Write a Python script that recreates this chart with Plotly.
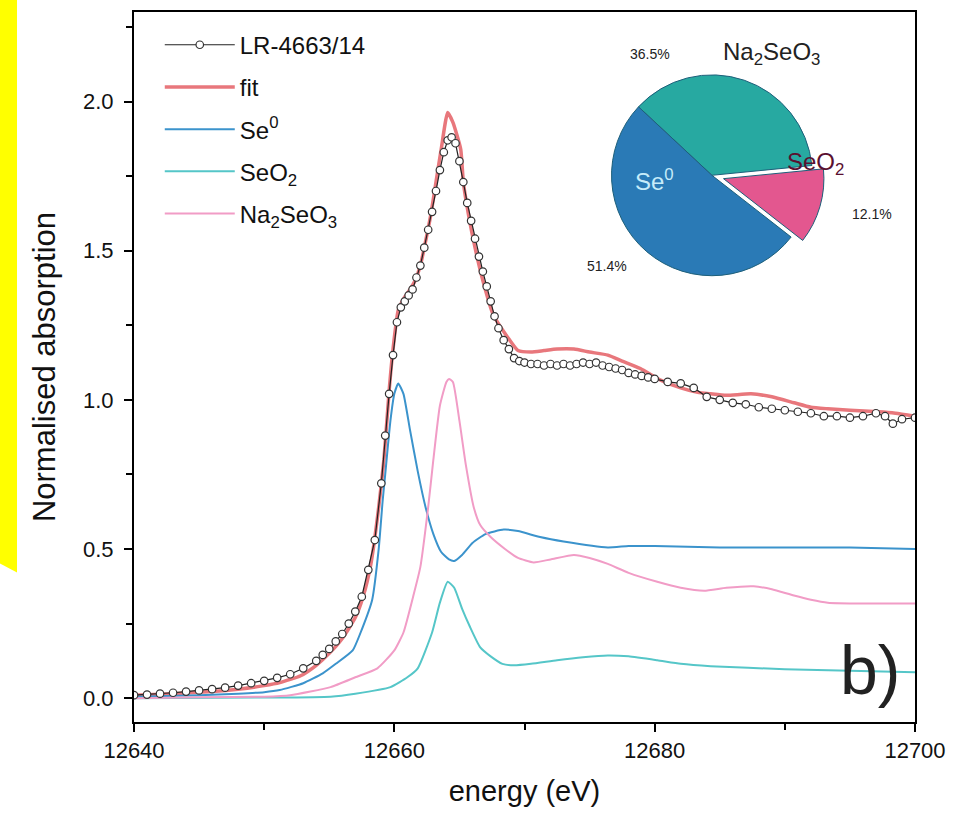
import plotly.graph_objects as go

# ---------------- data ----------------
data_E = [12640, 12641, 12642, 12643, 12644, 12645, 12646, 12647, 12648, 12649, 12650, 12651,
          12652, 12653, 12654, 12654.5, 12655, 12655.5, 12656, 12656.5, 12657, 12657.5, 12658,
          12658.5, 12659, 12659.3, 12659.6, 12659.9, 12660.2, 12660.5, 12660.8, 12661.1, 12661.4,
          12661.7, 12662.0, 12662.3, 12662.6, 12662.9, 12663.2, 12663.5, 12663.8, 12664.1, 12664.4,
          12664.7, 12665.0, 12665.3, 12665.6, 12665.9, 12666.2, 12666.5, 12666.8, 12667.1, 12667.4,
          12667.7, 12668.0, 12668.4, 12668.8, 12669.2, 12669.6, 12670, 12670.5, 12671, 12671.5,
          12672, 12672.5, 12673, 12673.5, 12674, 12674.5, 12675, 12675.5, 12676, 12676.5, 12677,
          12677.5, 12678, 12678.5, 12679, 12679.5, 12680, 12681, 12682, 12683, 12684, 12685, 12686,
          12687, 12688, 12689, 12690, 12691, 12692, 12693, 12694, 12695, 12696, 12697, 12697.7,
          12698.3, 12699, 12700]
data_A = [0.010, 0.012, 0.015, 0.018, 0.022, 0.026, 0.030, 0.035, 0.042, 0.050, 0.058, 0.068,
          0.080, 0.100, 0.125, 0.145, 0.165, 0.190, 0.215, 0.250, 0.290, 0.340, 0.430,
          0.530, 0.720, 0.880, 1.020, 1.150, 1.260, 1.310, 1.330, 1.350, 1.370,
          1.410, 1.450, 1.510, 1.570, 1.630, 1.700, 1.770, 1.830, 1.870, 1.880,
          1.860, 1.800, 1.730, 1.660, 1.600, 1.540, 1.480, 1.430, 1.380, 1.330,
          1.280, 1.240, 1.200, 1.170, 1.140, 1.130, 1.125, 1.120, 1.120, 1.115,
          1.120, 1.115, 1.120, 1.115, 1.120, 1.125, 1.120, 1.125, 1.115, 1.110, 1.105,
          1.100, 1.090, 1.085, 1.080, 1.075, 1.070, 1.060, 1.055, 1.040, 1.010, 1.000, 0.990,
          0.985, 0.975, 0.970, 0.965, 0.960, 0.955, 0.945, 0.945, 0.940, 0.945, 0.955, 0.945,
          0.920, 0.935, 0.940]

fit_E = [12640, 12642, 12644, 12646, 12648, 12650, 12651.2, 12652.8, 12654, 12655, 12656, 12657,
         12657.6, 12658.2, 12658.8, 12659.2, 12659.6, 12659.9, 12660.3, 12660.8, 12661.2, 12661.6,
         12662.0, 12662.3, 12662.8, 12663.2, 12663.6, 12664.1, 12664.5, 12665.1, 12665.3, 12665.7,
         12666.2, 12666.8, 12667.6, 12668.7, 12669.5, 12670.5, 12671.5, 12672.5, 12673.8, 12675,
         12676.4, 12677.5, 12678.9, 12680.5, 12682, 12683.3, 12684.3, 12685.5, 12687.4, 12689,
         12690.7, 12692, 12693.3, 12695, 12697.2, 12698.5, 12700]
fit_A = [0.010, 0.013, 0.017, 0.022, 0.030, 0.042, 0.052, 0.075, 0.110, 0.150, 0.200, 0.270,
         0.340, 0.450, 0.640, 0.800, 1.030, 1.170, 1.300, 1.345, 1.370, 1.400,
         1.450, 1.510, 1.620, 1.730, 1.840, 1.963, 1.930, 1.840, 1.730, 1.620,
         1.510, 1.400, 1.285, 1.210, 1.165, 1.160, 1.165, 1.170, 1.170, 1.160,
         1.150, 1.130, 1.105, 1.065, 1.040, 1.025, 1.020, 1.015, 1.020, 1.010,
         0.990, 0.975, 0.970, 0.965, 0.960, 0.955, 0.945]

se0_E = [12640, 12645, 12648, 12650, 12651.2, 12653, 12654.5, 12655.5, 12656.8, 12657.5, 12658.3,
         12658.8, 12659.1, 12659.3, 12659.7, 12660.0, 12660.3, 12660.7, 12661.2, 12661.8, 12662.4,
         12663.0, 12663.6, 12664.2, 12664.6, 12665.2, 12666, 12667, 12668.4, 12669.5, 12671.2,
         12673, 12676.4, 12678, 12680, 12685, 12690, 12695, 12700]
se0_A = [0.005, 0.010, 0.015, 0.020, 0.027, 0.050, 0.083, 0.115, 0.160, 0.230, 0.330,
         0.500, 0.660, 0.750, 0.930, 1.020, 1.055, 1.020, 0.900, 0.760, 0.640,
         0.550, 0.490, 0.465, 0.460, 0.480, 0.520, 0.550, 0.565, 0.560, 0.540,
         0.525, 0.505, 0.510, 0.510, 0.505, 0.505, 0.505, 0.500]

seo2_E = [12640, 12650, 12655.1, 12657, 12659.7, 12661, 12661.8, 12662.9, 12663.5, 12664.1,
          12664.6, 12665.2, 12665.8, 12666.6, 12667.4, 12668.3, 12669.2, 12670.5, 12672.5,
          12674.5, 12676.4, 12678, 12680.2, 12682, 12684.3, 12690, 12695, 12700]
seo2_A = [0.000, 0.002, 0.005, 0.015, 0.037, 0.070, 0.100, 0.220, 0.320, 0.390,
          0.370, 0.300, 0.240, 0.170, 0.140, 0.115, 0.110, 0.115, 0.127,
          0.137, 0.143, 0.140, 0.127, 0.115, 0.107, 0.097, 0.092, 0.087]

na_E = [12640, 12645, 12650, 12652, 12655.1, 12657, 12658.7, 12660, 12660.7, 12661.5, 12662.0,
        12662.6, 12663.0, 12663.5, 12664.0, 12664.2, 12664.5, 12665.0, 12665.5, 12666.1, 12666.6,
        12667.4, 12668.5, 12669.5, 12670.7, 12672, 12673.8, 12675, 12676.4, 12678, 12680.2,
        12682, 12683.8, 12685.5, 12687.6, 12689, 12690.7, 12692, 12693.3, 12696, 12700]
na_A = [0.000, 0.003, 0.005, 0.010, 0.037, 0.070, 0.100, 0.160, 0.220, 0.350, 0.440,
        0.640, 0.800, 0.980, 1.060, 1.070, 1.060, 0.930, 0.780, 0.640, 0.580,
        0.540, 0.500, 0.470, 0.455, 0.465, 0.480, 0.470, 0.450, 0.420, 0.390,
        0.370, 0.360, 0.370, 0.375, 0.365, 0.344, 0.330, 0.320, 0.317, 0.317]

# pie inset (percentages)
pie_labels = ["Na2SeO3", "SeO2", "Se0"]
pie_values = [36.5, 12.1, 51.4]

x_ticks = [12640, 12660, 12680, 12700]
y_ticks = [0.0, 0.5, 1.0, 1.5, 2.0]

# ---------------- figure ----------------
FONT = "Liberation Sans, Arial, sans-serif"
C_FIT = "#e8777c"
C_SE0 = "#3b93cc"
C_SEO2 = "#55c6c8"
C_NA = "#f19cc6"

fig = go.Figure()

fig.add_trace(go.Scatter(
    x=fit_E, y=fit_A, name="fit", mode="lines", legendrank=2,
    line=dict(color=C_FIT, width=3.5, shape="spline", smoothing=0.5), legendgroup="b"))
fig.add_trace(go.Scatter(
    x=se0_E, y=se0_A, name="Se<sup>0</sup>", mode="lines", legendrank=3,
    line=dict(color=C_SE0, width=2, shape="spline", smoothing=0.5), legendgroup="c"))
fig.add_trace(go.Scatter(
    x=seo2_E, y=seo2_A, name="SeO<sub>2</sub>", mode="lines", legendrank=4,
    line=dict(color=C_SEO2, width=2, shape="spline", smoothing=0.5), legendgroup="d"))
fig.add_trace(go.Scatter(
    x=na_E, y=na_A, name="Na<sub>2</sub>SeO<sub>3</sub>", mode="lines", legendrank=5,
    line=dict(color=C_NA, width=2, shape="spline", smoothing=0.5), legendgroup="e"))
fig.add_trace(go.Scatter(
    x=data_E, y=data_A, name="LR-4663/14", mode="lines+markers", legendrank=1,
    line=dict(color="#222222", width=1.2),
    marker=dict(symbol="circle", size=7.5, color="white", line=dict(color="#333333", width=1.2)),
    legendgroup="a"))

fig.add_trace(go.Pie(
    labels=pie_labels, values=pie_values, sort=False, direction="clockwise",
    rotation=-47, pull=[0, 0.12, 0],
    marker=dict(colors=["#27a9a1", "#e3578f", "#2a7ab6"], line=dict(color="#1d5f7a", width=1)),
    textinfo="none", hoverinfo="label+percent", showlegend=False,
    domain=dict(x=[0.596, 0.884], y=[0.61, 0.93])))

axis_common = dict(
    showline=True, linecolor="black", linewidth=2, mirror=True,
    ticks="outside", ticklen=8, tickwidth=2, tickcolor="black",
    showgrid=False, zeroline=False,
    tickfont=dict(family=FONT, size=22, color="#111"),
)
fig.update_xaxes(
    range=[12640, 12700], tickvals=x_ticks, ticktext=[str(v) for v in x_ticks],
    minor=dict(dtick=10, ticks="outside", ticklen=6, tickwidth=2, tickcolor="black"),
    title=dict(text="energy (eV)", font=dict(family=FONT, size=29, color="#111"), standoff=18),
    **axis_common)
fig.update_yaxes(
    range=[-0.08, 2.30], tickvals=y_ticks, ticktext=[f"{v:.1f}" for v in y_ticks],
    minor=dict(dtick=0.25, ticks="outside", ticklen=6, tickwidth=2, tickcolor="black"),
    ticklabelstandoff=6,
    title=dict(text="Normalised absorption", font=dict(family=FONT, size=31, color="#111"), standoff=18),
    **axis_common)

annotations = [
    dict(text=f"{pie_values[0]:.1f}%", x=0.661, y=0.941, font=dict(size=14, color="#222")),
    dict(text="Na<sub>2</sub>SeO<sub>3</sub>", x=0.816, y=0.941, font=dict(size=24, color="#222")),
    dict(text="Se<sup>0</sup>", x=0.667, y=0.764, font=dict(size=24, color="#c6ecfa")),
    dict(text="SeO<sub>2</sub>", x=0.872, y=0.786, font=dict(size=24, color="#5a1030")),
    dict(text=f"{pie_values[1]:.1f}%", x=0.945, y=0.715, font=dict(size=14, color="#222")),
    dict(text=f"{pie_values[2]:.1f}%", x=0.606, y=0.642, font=dict(size=14, color="#222")),
    dict(text="b)", x=0.942, y=0.073, font=dict(size=68, color="#222")),
]
for a in annotations:
    a.update(xref="paper", yref="paper", showarrow=False, xanchor="center", yanchor="middle")
    a["font"]["family"] = FONT

fig.update_layout(
    width=957, height=825,
    margin=dict(l=134, r=42, t=10, b=103),
    paper_bgcolor="white", plot_bgcolor="white",
    font=dict(family=FONT, color="#111"),
    showlegend=True,
    legend=dict(x=0.033, y=0.985, xanchor="left", yanchor="top",
                bgcolor="rgba(0,0,0,0)", font=dict(family=FONT, size=24, color="#111"),
                itemwidth=70, tracegroupgap=8, traceorder="grouped"),
    annotations=annotations,
    shapes=[dict(type="path", xref="paper", yref="paper",
                 path="M -0.1716 1.02 L -0.1498 1.02 L -0.1498 0.2107 L -0.1716 0.2233 Z",
                 fillcolor="#ffff00", line=dict(width=0), layer="below")],
)

fig.write_html("out.html", config={"displayModeBar": False},
               post_script="document.body.style.margin='0';document.body.style.overflow='hidden';")
